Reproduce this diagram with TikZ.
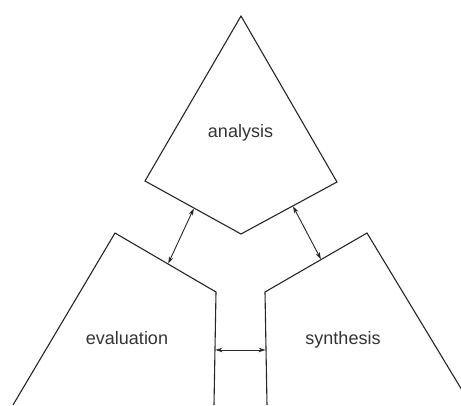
\documentclass[tikz,border=0pt]{standalone}
\usepackage{fontspec}
\setmainfont{Liberation Sans}
\usetikzlibrary{arrows.meta, calc}

\begin{document}
\begin{tikzpicture}[
        x=1pt, y=-1pt,
        face/.style={draw=black!85, line width=1.1pt, line join=miter},
        lbl/.style={anchor=base, text=black!80, font=\fontsize{18}{20}\selectfont},
        link/.style={{Stealth[length=7pt, width=4.5pt]}-{Stealth[length=7pt, width=4.5pt]}, draw=black!85, line width=0.9pt, shorten <=0.5pt, shorten >=0.5pt}
    ]
        \useasboundingbox (0,0) rectangle (461,405);
        \clip (0,0) rectangle (461,405);

        % Analysis
        \coordinate (at) at (241,16);
        \coordinate (al) at (145,181);
        \coordinate (ab) at (241,234);
        \coordinate (ar) at (337,182);
        \draw[face] (at) -- (al) -- (ab) -- (ar) -- cycle;
        \node[lbl] (analysis) at (240.5,137) {analysis};

        % Evaluation
        \coordinate (et) at (115,233);
        \coordinate (el) at (13,405);
        \coordinate (er) at (216,292);
        \coordinate (eb) at (214,405);
        \draw[face] (el) -- (et) -- (er) -- (eb);
        \node[lbl] (evaluation) at (127,344) {evaluation};

        % Synthesis
        \coordinate (st) at (367,233);
        \coordinate (sr) at (471,405);
        \coordinate (sl) at (265,292);
        \coordinate (sb) at (267,405);
        \draw[face] (sr) -- (st) -- (sl) -- (sb);
        \node[lbl] (synthesis) at (343,344) {synthesis};

        % Links
        \coordinate (a1) at ($(al)!0.51!(ab)$);
        \coordinate (e1) at ($(et)!0.525!(er)$);
        \draw[link] (e1) -- (a1);

        \coordinate (a2) at ($(ab)!0.54!(ar)$);
        \coordinate (s1) at ($(sl)!0.55!(st)$);
        \draw[link] (a2) -- (s1);

        \coordinate (e2) at ($(er)!0.513!(eb)$);
        \coordinate (s2) at ($(sl)!0.513!(sb)$);
        \draw[link] (e2) -- (s2);
    \end{tikzpicture}
\end{document}
